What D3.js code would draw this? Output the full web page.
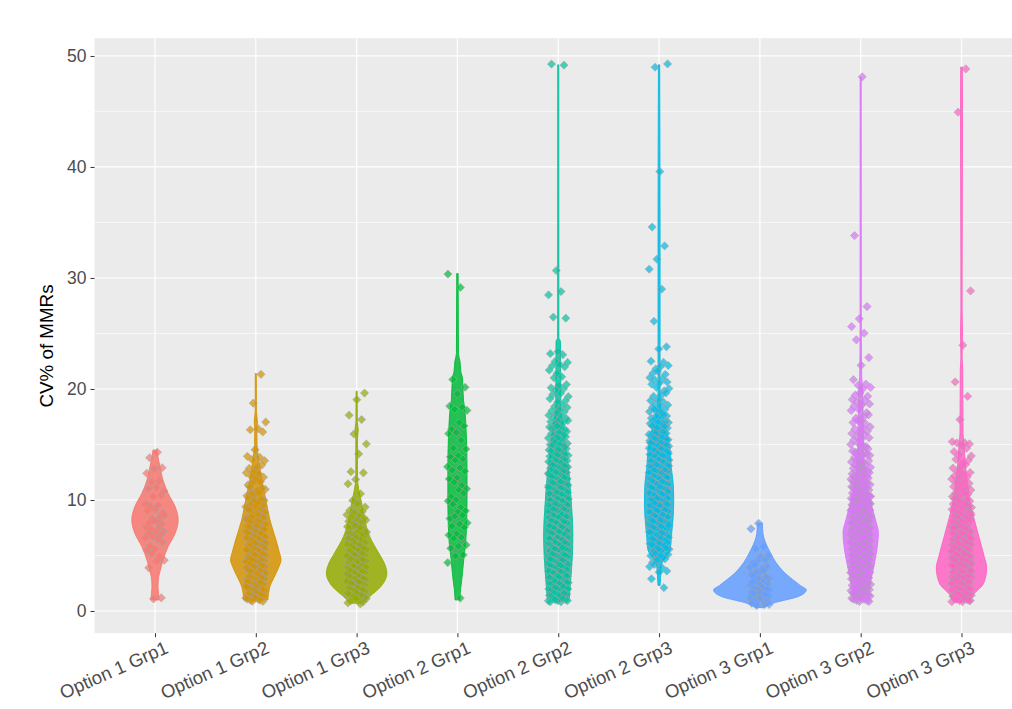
<!DOCTYPE html>
<html><head><meta charset="utf-8">
<script src="https://cdn.jsdelivr.net/npm/d3@7"></script>
<style>
html,body{margin:0;padding:0;background:#fff;}
svg{display:block;font-family:"Liberation Sans",Arial,sans-serif;}
</style></head>
<body><svg id="c" width="1012" height="709"></svg>
<script>
// ---------- data ----------
const categories = ["Option 1 Grp1","Option 1 Grp2","Option 1 Grp3","Option 2 Grp1","Option 2 Grp2","Option 2 Grp3","Option 3 Grp1","Option 3 Grp2","Option 3 Grp3"];
const colors = ["#F8766D","#D39200","#93AA00","#00BA38","#00C19F","#00B9E3","#619CFF","#DB72FB","#FF61C3"];
const yTicks = [0,10,20,30,40,50];
const yMinor = [5,15,25,35,45];
const yTitle = "CV% of MMRs";

// points: [value, count]
const pts1 = [[14.2,1],[13.8,1],[13,2],[12.3,1],[11.7,2],[11,3],[10.5,2],[9.5,3],[9,3],[8.5,3],[8,4],[7.5,3],[7,4],[6.5,3],[6,2],[5.5,2],[5,2],[4.5,2],[4,1],[1.0,2]];
const pts2 = [[21.5,1],[18.6,1],[17,1],[16.5,2],[16,1],[14.5,1],[14,2],[13.5,2],[13,3],[12.5,3],[12,3],[11.5,3],[11,4],[10.5,4],[10,5],[9.5,5],[9,6],[8.5,6],[8,7],[7.5,8],[7,9],[6.5,9],[6,10],[5.5,10],[5,11],[4.5,11],[4,11],[3.5,10],[3,9],[2.5,8],[2,7],[1.5,7],[1,8]];
const pts3 = [[19.7,1],[19.2,1],[17.5,1],[17.2,1],[16,1],[15.2,1],[14,1],[12.5,2],[12,1],[11.3,1],[10.5,1],[10,1],[9.5,2],[9,3],[8.5,4],[8,5],[7.5,6],[7,7],[6.5,7],[6,8],[5.5,9],[5,10],[4.5,11],[4,11],[3.5,12],[3,12],[2.5,11],[2,10],[1.5,8],[1,5],[0.7,2]];
const pts4 = [[30.3,1],[29.2,1],[21,1],[20,1],[19.5,1],[18.5,2],[18,2],[17,1],[16.5,2],[16,2],[15.5,1],[14.5,2],[14,2],[13.5,2],[13,2],[12.5,2],[12,2],[11.5,2],[11,2],[10.5,2],[10,2],[9.5,2],[9,2],[8.5,3],[8,2],[7.5,2],[7,2],[6.5,2],[6,2],[5.5,1],[5,2],[4.5,1],[1.0,1]];
const pts5 = [[49.1,2],[30.7,1],[28.6,2],[26.4,2],[23.5,1],[23,2],[22.5,2],[22,3],[21.5,2],[21,2],[20.5,2],[20,3],[19.5,3],[19,3],[18.5,3],[18,4],[17.5,4],[17,5],[16.5,5],[16,6],[15.5,6],[15,7],[14.5,7],[14,8],[13.5,9],[13,10],[12.5,10],[12,11],[11.5,12],[11,12],[10.5,13],[10,14],[9.5,14],[9,15],[8.5,15],[8,16],[7.5,16],[7,17],[6.5,17],[6,17],[5.5,17],[5,17],[4.5,16],[4,16],[3.5,15],[3,14],[2.5,13],[2,12],[1.5,11],[1,10]];
const pts6 = [[49.1,2],[39.5,1],[34.6,1],[33,1],[31.5,1],[30.7,1],[29,1],[26.2,1],[24,1],[23.5,1],[22.5,2],[22,3],[21.5,3],[21,3],[20.5,3],[20,3],[19.5,3],[19,3],[18.5,4],[18,5],[17.5,5],[17,6],[16.5,7],[16,8],[15.5,9],[15,10],[14.5,11],[14,12],[13.5,13],[13,14],[12.5,15],[12,16],[11.5,17],[11,17],[10.5,18],[10,18],[9.5,18],[9,17],[8.5,16],[8,15],[7.5,13],[7,12],[6.5,10],[6,8],[5.5,6],[5,5],[4.5,3],[4,3],[3.5,2],[3,1],[2.3,1]];
const pts7 = [[7.9,1],[7.5,1],[6,1],[5.5,1],[5,2],[4.5,3],[4,4],[3.5,4],[3,5],[2.5,6],[2,7],[1.5,7],[1,6],[0.6,3],[0.4,1]];
const pts8 = [[48,1],[33.8,1],[27.5,1],[26.5,1],[25.5,1],[25,1],[24.5,1],[23,1],[22,1],[20.8,1],[20.5,2],[20,2],[19.5,3],[19,3],[18.5,3],[18,3],[17.5,3],[17,4],[16.5,3],[16,4],[15.5,4],[15,4],[14.5,5],[14,5],[13.5,6],[13,6],[12.5,7],[12,7],[11.5,8],[11,9],[10.5,10],[10,10],[9.5,11],[9,12],[8.5,13],[8,14],[7.5,14],[7,14],[6.5,14],[6,14],[5.5,13],[5,13],[4.5,12],[4,12],[3.5,11],[3,10],[2.5,9],[2,9],[1.5,8],[1,8]];
const pts9 = [[49,1],[44.8,1],[28.8,1],[24,1],[20.8,1],[19.2,1],[17.2,1],[15.3,2],[15,3],[14.5,2],[14,2],[13.5,3],[13,3],[12.5,3],[12,4],[11.5,4],[11,5],[10.5,5],[10,6],[9.5,7],[9,7],[8.5,8],[8,9],[7.5,10],[7,11],[6.5,12],[6,13],[5.5,14],[5,15],[4.5,16],[4,16],[3.5,16],[3,15],[2.5,14],[2,13],[1.5,11],[1,9]];

// violin profiles: [value, half-width (hundredths of a category step)]
const vio1 = [[1.0,4],[1.6,3.5],[2.2,3],[3.0,3.5],[3.4,4.5],[4.6,8],[5.8,13],[7.0,20],[8.2,23],[9.4,20],[10.6,13],[12.1,7],[13.0,5],[13.6,3.5],[14.5,2]];
const vio2 = [[1.0,12],[2.2,14],[3.2,19],[4.0,23],[4.6,25],[5.4,23],[6.4,20],[8.2,14],[10,10],[11.8,6],[13.6,3],[15,1.2],[16.5,1],[17,1.6],[18,0.6],[21.4,0.5]];
const vio3 = [[0.7,6],[1.3,13],[2.2,24],[3.4,30],[4.4,27],[5.2,22],[6.7,13],[8.2,8],[9.7,5],[11,2],[12,0.8],[15.5,0.8],[16.3,1.6],[17,0.7],[19.8,0.5]];
const vio4 = [[1.0,2.3],[1.9,3],[2.6,4],[3.4,5],[4.4,6],[5.2,7],[6,8],[7.6,9],[10,9.5],[13,9.5],[15.4,9],[16.5,8.5],[18.4,7],[19,6],[21,5],[21.5,3.5],[22.5,2.5],[23.2,1],[30.4,0.7]];
const vio5 = [[1.1,11],[3,12.5],[5,14],[7,14.5],[9,13.5],[11,12],[13,10],[15,7],[17,5],[18,2.5],[24.3,2.2],[24.6,0.6],[49.2,0.5]];
const vio6 = [[2.3,1],[3,1.5],[4.2,2.5],[4.6,5],[5.5,11],[7,12.5],[8.5,14],[10,14.5],[11.5,14],[13,12],[14.5,11],[16,8],[17.5,4],[18.5,1.5],[20,1],[33,1],[49.2,0.6]];
const vio7 = [[0.3,4],[0.7,13],[1.3,38],[1.9,46],[2.3,40],[2.8,33],[3.4,25],[4,19],[5.5,9],[6.3,5],[7,3],[7.9,2.5]];
const vio8 = [[1.1,8],[2.2,9],[3.8,12.5],[5.5,16],[7.1,17.5],[8.1,15],[9.8,10],[11.5,6],[13.2,3.5],[16.5,2.5],[19.8,2],[21.1,1],[25,0.6],[48.1,0.5]];
const vio9 = [[0.8,8],[1.5,12],[2.5,22],[3.9,25],[4.9,22.5],[6.6,17.5],[8.3,12.5],[10,8],[11.6,6],[13,4],[15,2.5],[16,1.5],[21.8,1.2],[22.8,0.6],[25.2,1],[27,0.6],[30,0.6],[45,1],[49,0.8]];

const pointSets = [pts1,pts2,pts3,pts4,pts5,pts6,pts7,pts8,pts9];
const violinSets = [vio1,vio2,vio3,vio4,vio5,vio6,vio7,vio8,vio9];

// ---------- layout ----------
const svg = d3.select("#c");
const panel = {left:94.5, right:1022, top:38.2, bottom:633.2};
const x = d3.scalePoint().domain(categories).range([panel.left, panel.right]).padding(0.6);
const y = d3.scaleLinear().domain([-2.0, 51.6]).range([panel.bottom, panel.top]);
const w = d3.scaleLinear().domain([0,100]).range([0, x.step()]);

svg.append("rect").attr("x",panel.left).attr("y",panel.top)
  .attr("width",panel.right-panel.left).attr("height",panel.bottom-panel.top).attr("fill","#EBEBEB");

const grid = svg.append("g");
grid.selectAll(".ymin").data(yMinor).join("line")
  .attr("x1",panel.left).attr("x2",panel.right).attr("y1",d=>y(d)).attr("y2",d=>y(d))
  .attr("stroke","#fff").attr("stroke-width",0.6);
grid.selectAll(".ymaj").data(yTicks).join("line")
  .attr("x1",panel.left).attr("x2",panel.right).attr("y1",d=>y(d)).attr("y2",d=>y(d))
  .attr("stroke","#fff").attr("stroke-width",1.2);
grid.selectAll(".xmaj").data(categories).join("line")
  .attr("x1",d=>x(d)).attr("x2",d=>x(d)).attr("y1",panel.top).attr("y2",panel.bottom)
  .attr("stroke","#fff").attr("stroke-width",1.2);

// violins
const area = d3.area().curve(d3.curveMonotoneY);
const vg = svg.append("g");
categories.forEach((c,i)=>{
  const cx = x(c);
  area.y(d=>y(d[0])).x0(d=>cx - w(d[1])).x1(d=>cx + w(d[1]));
  vg.append("path").attr("d",area(violinSets[i]))
    .attr("fill",colors[i]).attr("fill-opacity",0.85)
    .attr("stroke",colors[i]).attr("stroke-width",0.9);
});

// jittered points (geom_jitter-like: width 0.1, height 0.2)
const pg = svg.append("g");
const diamond = r => `M0,${-r}L${r},0L0,${r}L${-r},0Z`;
categories.forEach((c,i)=>{
  const cx = x(c);
  let k = 0;
  const flat = [];
  pointSets[i].forEach(([v,n])=>{ for(let j=0;j<n;j++){ flat.push({v, k:k++}); } });
  pg.selectAll(null).data(flat).join("path")
    .attr("d",diamond(4.1))
    .attr("transform",d=>{
      const jx = (((d.k+1)*0.6180339887 + i*0.137) % 1)*2-1;
      const jy = (((d.k+1)*0.7548776662 + i*0.291) % 1)*2-1;
      return `translate(${cx + jx*0.1*x.step()},${y(d.v + jy*0.2)})`;
    })
    .attr("fill",colors[i]).attr("fill-opacity",0.7)
    .attr("stroke","#a6a6a6").attr("stroke-opacity",0.75).attr("stroke-width",0.8);
});

// axes
const yAxis = svg.append("g").attr("transform",`translate(${panel.left},0)`)
  .call(d3.axisLeft(y).tickValues(yTicks).tickSize(4).tickPadding(4));
yAxis.select(".domain").remove();
yAxis.selectAll(".tick line").attr("stroke","#333").attr("stroke-width",1);
yAxis.selectAll(".tick text").attr("fill","#4D4D4D").attr("font-size","17.5px")
  .attr("font-family","Liberation Sans, Arial, sans-serif");

const xAxis = svg.append("g").attr("transform",`translate(0,${panel.bottom})`)
  .call(d3.axisBottom(x).tickSize(4).tickPadding(4));
xAxis.select(".domain").remove();
xAxis.selectAll(".tick line").attr("stroke","#333").attr("stroke-width",1);
xAxis.selectAll(".tick text")
  .attr("fill","#4D4D4D").attr("font-size","18.5px")
  .attr("font-family","Liberation Sans, Arial, sans-serif")
  .attr("text-anchor","end").attr("dy",null).attr("y",null)
  .attr("transform","translate(14,19) rotate(-24)");

svg.append("text").text(yTitle)
  .attr("transform","translate(53,346) rotate(-90)")
  .attr("text-anchor","middle").attr("font-size","18.8px").attr("fill","#000");
</script></body></html>
